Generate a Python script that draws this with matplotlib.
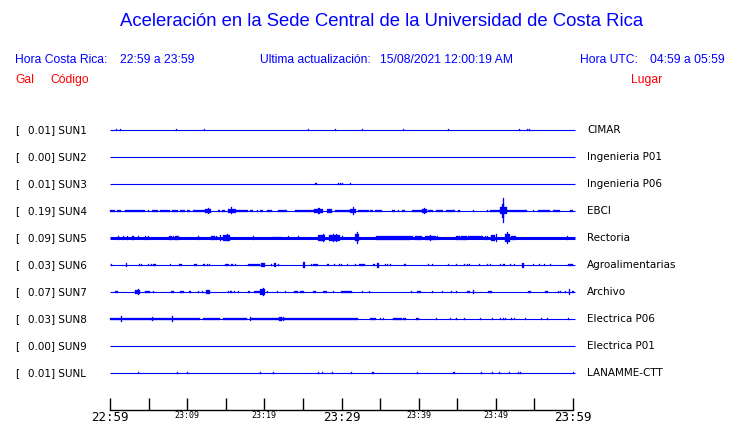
import matplotlib
matplotlib.use("Agg")
import matplotlib.pyplot as plt

# --- data ---
codes = ["SUN1", "SUN2", "SUN3", "SUN4", "SUN5", "SUN6", "SUN7", "SUN8", "SUN9", "SUNL"]
peak_gal = [0.01, 0.00, 0.01, 0.19, 0.09, 0.03, 0.07, 0.03, 0.00, 0.01]
places = ["CIMAR", "Ingenieria P01", "Ingenieria P06", "EBCI", "Rectoria",
          "Agroalimentarias", "Archivo", "Electrica P06", "Electrica P01", "LANAMME-CTT"]

tick_minutes = list(range(0, 61, 5))
tick_text = ["22:59", "", "23:09", "", "23:19", "", "23:29", "", "23:39", "", "23:49", "", "23:59"]

# bursts per trace: (minute, duration in minutes, half amplitude); duration 0 = single spike
sun1 = [(0.73, 0, 0.8), (1.34, 0, 1.3), (8.6, 0, 1.3), (12.2, 0, 1.3), (25.7, 0, 0.8),
        (29.1, 0, 1.3), (32.7, 0, 1.3), (38.0, 0, 1.3), (43.8, 0, 1.3), (53.0, 0, 0.8),
        (54.0, 0, 1.3), (54.3, 0, 1.0)]
sun2 = []
sun3 = [(26.6, 0, 1.0), (26.75, 0, 1.3), (29.5, 0.1, 1.0), (29.8, 0, 1.3), (30.1, 0, 1.3),
        (31.05, 0.15, 1.3)]
sun4 = [(0.0, 0.65, 1.2), (0.86, 0.56, 1.2), (1.94, 2.6, 1.2), (4.96, 0, 1.2), (5.4, 0.86, 1.2),
        (6.48, 1.3, 1.2), (7.99, 0.86, 1.2), (9.07, 0.64, 1.2), (9.93, 0.43, 1.2), (10.79, 1.5, 1.2),
        (12.3, 0.8, 2.2), (12.74, 0, 3.3), (14.03, 0.22, 1.2), (14.55, 0.35, 1.2),
        (15.24, 1.04, 2.0), (15.67, 0.2, 3.5), (16.28, 1.64, 1.2), (18.13, 0.44, 1.2),
        (19.0, 0, 1.2), (19.43, 0.43, 1.2), (20.29, 0.65, 1.2), (21.8, 1.2, 1.2),
        (23.96, 2.54, 1.2), (26.5, 1.1, 2.0), (27.0, 0.2, 3.2), (28.06, 0.65, 1.8),
        (29.14, 2.1, 1.2), (31.1, 0.76, 2.2), (31.5, 0.1, 4.2), (32.2, 1.3, 1.2),
        (33.7, 0.4, 1.2), (34.3, 1.0, 1.2), (36.5, 0, 1.2), (36.7, 0.2, 1.2), (37.3, 0, 1.2),
        (37.8, 0.4, 1.2), (39.1, 1.3, 1.2), (40.4, 0.7, 1.8), (40.7, 0.1, 2.8),
        (41.2, 0.7, 1.2), (42.3, 0.9, 1.2), (43.6, 1.1, 1.2), (45.1, 0.3, 1.2), (47.1, 0, 1.2),
        (48.8, 0, 1.2), (49.2, 1.3, 1.2), (50.6, 0.8, 3.5), (50.85, 0.25, 7.0),
        (50.95, 0.1, 12.5), (51.4, 2.6, 1.2), (54.8, 0, 1.2), (55.5, 1.5, 1.2),
        (57.4, 0.9, 1.2), (59.6, 0.4, 1.2)]
sun5 = [(1.08, 0, 2.0), (1.73, 0, 1.7), (2.16, 0, 1.7), (2.8, 0, 1.7), (3.02, 0, 1.7),
        (3.67, 0, 1.5), (4.53, 0, 1.7), (4.88, 0, 1.7), (7.7, 0.3, 2.0), (8.2, 0, 2.0),
        (8.4, 0.5, 1.8), (11.44, 0, 2.0), (13.1, 0.5, 2.3), (13.8, 0, 2.0), (14.25, 0, 2.7),
        (14.7, 0.9, 2.6), (15.11, 0.15, 3.5), (18.57, 0, 2.0), (20.94, 1.3, 1.4),
        (23.1, 0, 1.5), (24.3, 0, 1.5), (27.0, 0.85, 2.8), (27.63, 0, 4.0), (28.4, 1.4, 2.6),
        (28.93, 0, 4.0), (29.28, 0, 4.0), (30.0, 0, 2.0), (31.7, 0.6, 3.5), (32.0, 0, 6.0),
        (34.5, 4.4, 1.6), (38.9, 0.4, 1.5), (39.5, 0.9, 1.7), (40.8, 1.5, 1.6),
        (41.45, 0, 2.7), (42.4, 0, 1.8), (44.9, 0.4, 1.6), (45.5, 0.7, 1.7), (46.4, 2.0, 1.5),
        (48.6, 0, 2.0), (48.8, 0, 2.0), (49.4, 0.5, 3.0), (50.0, 0, 4.0), (51.2, 0.7, 4.0),
        (51.5, 0, 6.0), (52.0, 0.6, 1.7), (59.2, 0, 2.0)]
sun6 = [(0.13, 0, 1.3), (2.03, 0, 2.0), (3.8, 0, 1.3), (4.02, 0, 1.3), (4.97, 0, 1.3),
        (5.31, 0, 1.3), (5.6, 0.4, 1.3), (7.77, 0, 1.3), (9.0, 0.3, 1.3), (10.9, 0.4, 1.3),
        (12.0, 0.3, 1.3), (12.6, 0, 1.3), (12.87, 0, 1.3), (14.9, 0.5, 1.3), (15.7, 0.2, 1.3),
        (16.19, 0, 1.3), (17.83, 1.6, 1.3), (19.6, 0.5, 2.3), (20.81, 0, 1.3), (21.3, 0.2, 2.0),
        (21.8, 0, 1.3), (25.0, 0.3, 2.7), (26.0, 0, 1.3), (26.34, 0.64, 1.3), (28.1, 0.3, 1.3),
        (29.06, 0, 1.3), (29.7, 0, 1.3), (29.9, 0, 1.3), (30.7, 0, 1.3), (31.7, 0, 1.3),
        (32.3, 0.7, 1.3), (34.1, 0.2, 1.3), (34.6, 0.3, 2.5), (35.6, 0, 1.3), (35.9, 0, 1.3),
        (36.25, 0.2, 1.3), (38.1, 0.2, 1.3), (41.2, 0, 1.3), (41.7, 0, 1.3), (43.8, 0, 1.3),
        (44.8, 0, 1.3), (45.85, 0, 1.3), (46.2, 0, 1.3), (46.5, 0, 1.3), (47.8, 0.2, 1.3),
        (48.8, 0, 1.3), (49.2, 0.2, 1.3), (50.5, 0, 1.3), (50.9, 0.3, 1.3), (51.9, 0, 1.3),
        (52.3, 0.2, 1.3), (53.35, 0.3, 2.5), (54.8, 0.2, 1.3), (55.6, 0, 1.3), (56.2, 0, 1.0),
        (57.0, 0, 1.0), (59.4, 0.6, 1.3)]
sun7 = [(0.65, 0.45, 1.3), (3.2, 0.7, 2.0), (3.58, 0, 3.0), (4.6, 0.6, 1.3), (5.61, 0, 1.3),
        (7.9, 0.45, 1.3), (9.05, 0.55, 1.3), (10.25, 0.2, 1.3), (11.44, 0, 1.3), (11.87, 0, 1.3),
        (12.45, 0.5, 2.0), (15.33, 0, 0.8), (15.55, 0.25, 1.3), (16.1, 0, 1.3), (16.62, 0, 1.3),
        (17.9, 0.2, 1.3), (18.65, 0.78, 1.3), (19.43, 0.67, 3.0), (19.78, 0, 4.3),
        (20.29, 0, 1.3), (21.59, 0, 1.3), (22.67, 0, 1.3), (23.85, 0.5, 1.3), (24.6, 0.6, 1.3),
        (26.35, 0.4, 1.3), (27.6, 0.5, 1.3), (28.93, 0, 1.3), (29.9, 1.4, 1.3), (32.7, 0, 1.3),
        (33.6, 0, 1.3), (39.0, 0.2, 1.3), (39.8, 0.5, 1.3), (41.7, 0, 1.3), (43.05, 0, 0.8),
        (44.25, 0, 1.3), (44.8, 0, 1.3), (46.2, 0.4, 1.3), (47.0, 0, 2.3), (48.95, 0.5, 1.3),
        (54.2, 0.4, 1.3), (56.4, 0.4, 1.3), (58.1, 0, 1.3), (58.3, 0, 1.3), (58.9, 0, 1.3),
        (59.5, 0, 2.7), (59.85, 0.25, 1.3)]
sun8 = [(0.0, 11.7, 1.4), (12.0, 2.3, 1.3), (14.6, 3.2, 1.3), (18.1, 14.1, 1.3),
        (1.38, 0, 2.7), (5.4, 0, 2.3), (7.99, 0, 2.7), (18.2, 0, 2.0), (21.9, 0.4, 2.0),
        (22.4, 0, 2.0), (33.7, 0.8, 1.3), (35.0, 0, 1.3), (35.4, 0, 1.3), (36.7, 1.1, 1.3),
        (38.0, 0.3, 1.3), (39.7, 0.3, 1.3), (42.3, 0, 0.8), (44.0, 0, 0.8), (44.8, 0, 1.3),
        (45.85, 0, 0.8), (47.9, 0, 0.8), (49.5, 0, 1.3), (50.5, 0, 1.3), (50.95, 0, 1.3),
        (51.2, 0, 1.3), (52.0, 0, 1.3), (52.3, 0, 1.3), (53.8, 0, 1.3), (55.9, 0, 0.8),
        (56.6, 0, 0.8), (59.4, 0, 0.8)]
sun9 = []
sunl = [(3.67, 0, 1.3), (8.73, 0, 0.8), (9.94, 0, 1.3), (19.48, 0, 0.8), (21.17, 0, 1.3),
        (27.0, 0, 1.0), (27.43, 0, 1.3), (28.8, 0.15, 1.3), (31.27, 0, 1.3), (34.0, 0.15, 1.3),
        (39.83, 0, 1.3), (44.5, 0.15, 1.3), (48.03, 0, 1.3), (49.46, 0, 0.8), (50.45, 0, 1.3),
        (51.75, 0, 0.8), (52.92, 0, 0.8), (53.18, 0, 1.3), (59.96, 0, 1.3)]

bursts = [sun1, sun2, sun3, sun4, sun5, sun6, sun7, sun8, sun9, sunl]

# --- style ---
W, H = 740, 423
BLUE = "#0000ff"
RED = "#ff0000"
ROW_GAP = 27
SPIKE_W = 0.13
trace_lw = [0.8, 0.8, 0.8, 0.8, 2.2, 0.8, 0.8, 0.8, 0.8, 0.8]
HEAD = "Liberation Sans"
HS = 8.7


def fx(px):
    return px / W


def fy(py):
    return 1 - py / H


fig = plt.figure(figsize=(W / 100, H / 100), dpi=100)
ax = fig.add_axes([fx(110), fy(410), 463 / W, (410 - 117) / H])
ax.set_xlim(0, 60)
ax.set_ylim(-280, 13)

for i, events in enumerate(bursts):
    y0 = -ROW_GAP * i
    ax.plot([0, 60.25], [y0, y0], color=BLUE, lw=trace_lw[i],
            solid_capstyle="butt", clip_on=False)
    for t, d, a in events:
        ax.bar(t, 2 * a, width=max(d, SPIKE_W), bottom=y0 - a, align="edge",
               color=BLUE, edgecolor=BLUE, linewidth=0.2, clip_on=False)
    yp = 130 + ROW_GAP * i
    fig.text(fx(15), fy(yp), "[", fontsize=7.5, va="center", family="DejaVu Sans")
    fig.text(fx(28), fy(yp), f"{peak_gal[i]:.2f}] {codes[i]}", fontsize=7.5,
             va="center", family="DejaVu Sans")
    fig.text(fx(587), fy(yp), places[i], fontsize=7.5, va="center", family="DejaVu Sans")

# time axis
for s in ["top", "left", "right"]:
    ax.spines[s].set_visible(False)
ax.spines["bottom"].set_linewidth(1.0)
ax.set_yticks([])
ax.set_xticks(tick_minutes)
ax.set_xticklabels(tick_text, family="DejaVu Sans Mono")
ax.tick_params(axis="x", direction="in", length=8.5, width=1.0, pad=0.5)
for lab in ax.get_xticklabels():
    lab.set_fontsize(9 if lab.get_text() in ("22:59", "23:29", "23:59") else 6)

# header
fig.text(fx(382), fy(22), "Aceleración en la Sede Central de la Universidad de Costa Rica",
         fontsize=13.3, color=BLUE, ha="center", va="center", family=HEAD)
fig.text(fx(15), fy(60), "Hora Costa Rica:", fontsize=HS, color=BLUE, va="center", family=HEAD)
fig.text(fx(120), fy(60), "22:59 a 23:59", fontsize=HS, color=BLUE, va="center", family=HEAD)
fig.text(fx(260), fy(60), "Ultima actualización:", fontsize=HS, color=BLUE, va="center", family=HEAD)
fig.text(fx(380), fy(60), "15/08/2021 12:00:19 AM", fontsize=HS, color=BLUE, va="center", family=HEAD)
fig.text(fx(580), fy(60), "Hora UTC:", fontsize=HS, color=BLUE, va="center", family=HEAD)
fig.text(fx(725), fy(60), "04:59 a 05:59", fontsize=HS, color=BLUE, ha="right", va="center", family=HEAD)
fig.text(fx(15), fy(80), "Gal", fontsize=HS, color=RED, va="center", family=HEAD)
fig.text(fx(50), fy(80), "Código", fontsize=HS, color=RED, va="center", family=HEAD)
fig.text(fx(662), fy(80), "Lugar", fontsize=HS, color=RED, ha="right", va="center", family=HEAD)

fig.savefig("out.png", dpi=100)
